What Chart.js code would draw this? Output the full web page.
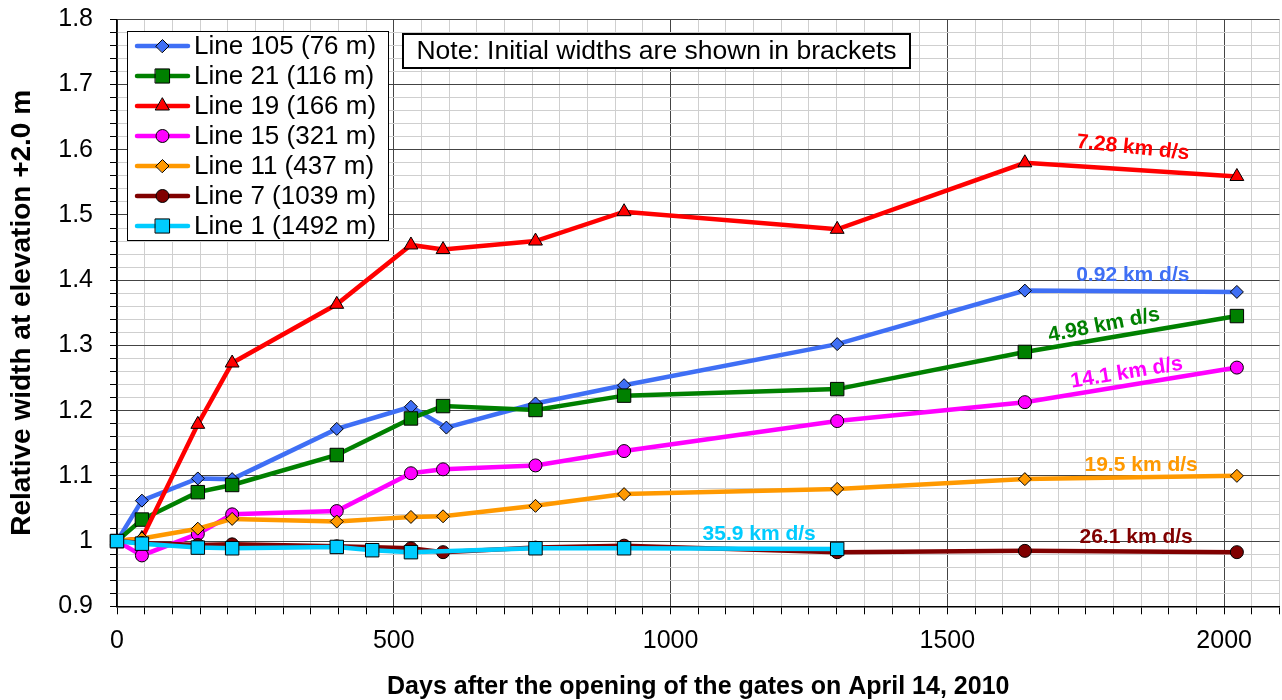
<!DOCTYPE html>
<html>
<head>
<meta charset="utf-8">
<title>Relative width at elevation +2.0 m</title>
<script src="https://cdn.jsdelivr.net/npm/chart.js@4.4.1/dist/chart.umd.min.js"></script>
<style>
  html, body { margin: 0; padding: 0; background: #fff; overflow: hidden; width: 1282px; height: 700px; }
  #wrap { position: absolute; left: 0; top: 0; width: 1290px; height: 700px; }
</style>
</head>
<body>
<div id="wrap"><canvas id="chart" width="1290" height="700"></canvas></div>
<script>
// ---- data: days after opening of the gates, relative width at +2.0 m ----
const seriesNames = [
  'Line 105 (76 m)', 'Line 21 (116 m)', 'Line 19 (166 m)', 'Line 15 (321 m)',
  'Line 11 (437 m)', 'Line 7 (1039 m)', 'Line 1 (1492 m)'
];
const days105 = [0, 45, 146, 208, 397, 531, 595, 756, 916, 1301, 1640, 2023];
const width105 = [1.000, 1.062, 1.096, 1.095, 1.172, 1.206, 1.174, 1.211, 1.239, 1.302, 1.384, 1.382];

const daysSurvey = [0, 45, 146, 208, 397, 531, 589, 756, 916, 1301, 1640, 2023];
const width21 = [1.000, 1.033, 1.075, 1.086, 1.132, 1.188, 1.207, 1.201, 1.223, 1.233, 1.290, 1.345];
const width19 = [1.000, 1.004, 1.179, 1.273, 1.363, 1.454, 1.447, 1.460, 1.505, 1.478, 1.580, 1.559];
const width15 = [1.000, 0.978, 1.011, 1.041, 1.046, 1.104, 1.110, 1.116, 1.138, 1.184, 1.213, 1.266];
const width11 = [1.000, 1.004, 1.019, 1.034, 1.030, 1.037, 1.038, 1.054, 1.072, 1.080, 1.095, 1.100];
const width7  = [1.000, 0.997, 0.994, 0.995, 0.992, 0.989, 0.983, 0.990, 0.993, 0.983, 0.985, 0.983];

const days1  = [0, 45, 146, 208, 397, 461, 531, 756, 916, 1301];
const width1 = [1.000, 0.996, 0.990, 0.989, 0.991, 0.986, 0.983, 0.989, 0.989, 0.988];

// discharge labels written next to each line
const rateLabels = ['0.92 km d/s', '4.98 km d/s', '7.28 km d/s', '14.1 km d/s', '19.5 km d/s', '26.1 km d/s', '35.9 km d/s'];
const noteText = 'Note: Initial widths are shown in brackets';
const xTitle = 'Days after the opening of the gates on April 14, 2010';
const yTitle = 'Relative width at elevation +2.0 m';

// ---- styling ----
const FONT = "'Liberation Sans', Arial, Helvetica, sans-serif";
const lineColors   = ['#3f6ff5', '#008000', '#ff0000', '#ff00ff', '#ff9900', '#800000', '#00ccff'];
const markerStyles = ['rectRot', 'rect', 'triangle', 'circle', 'rectRot', 'circle', 'rect'];
const markerRadius = [6.5, 9.5, 8, 6.5, 6.5, 6.5, 9.5];

// placement of the discharge labels (data units) and their tilt in degrees
const ratePlacement = [
  { day: 1835, value: 1.408, angle: 0 },
  { day: 1783, value: 1.331, angle: -11 },
  { day: 1835, value: 1.603, angle: 6 },
  { day: 1824, value: 1.258, angle: -9.3 },
  { day: 1850, value: 1.116, angle: 0 },
  { day: 1841, value: 1.006, angle: 0 },
  { day: 1160, value: 1.011, angle: 0 }
];

const seriesDays = [days105, daysSurvey, daysSurvey, daysSurvey, daysSurvey, daysSurvey, days1];
const seriesVals = [width105, width21, width19, width15, width11, width7, width1];

const datasets = seriesNames.map((name, i) => ({
  label: name,
  data: seriesDays[i].map((d, k) => ({ x: d, y: seriesVals[i][k] })),
  borderColor: lineColors[i],
  backgroundColor: lineColors[i],
  borderWidth: 4.5,
  tension: 0,
  pointStyle: markerStyles[i],
  pointRadius: markerRadius[i],
  pointBackgroundColor: lineColors[i],
  pointBorderColor: '#000',
  pointBorderWidth: 1,
  clip: false,
  order: seriesNames.length - i  // later series are painted above earlier ones
}));

const MAJOR_GRID = '#444444';
const MINOR_GRID = '#cfcfcf';

function drawMarker(ctx, style, x, y, r) {
  ctx.beginPath();
  if (style === 'circle') {
    ctx.arc(x, y, r, 0, Math.PI * 2);
  } else if (style === 'rect') {
    const s = Math.SQRT1_2 * r;
    ctx.rect(x - s, y - s, 2 * s, 2 * s);
  } else if (style === 'rectRot') {
    ctx.moveTo(x - r, y); ctx.lineTo(x, y - r); ctx.lineTo(x + r, y); ctx.lineTo(x, y + r);
    ctx.closePath();
  } else if (style === 'triangle') {
    for (let k = 0; k < 3; k++) {
      const a = k * 2 * Math.PI / 3;
      const px = x + Math.sin(a) * r, py = y - Math.cos(a) * r;
      if (k === 0) ctx.moveTo(px, py); else ctx.lineTo(px, py);
    }
    ctx.closePath();
  }
  ctx.fill();
  ctx.stroke();
}

// discharge labels beside the lines
const rateLabelPlugin = {
  id: 'rateLabels',
  afterDatasetsDraw(chart) {
    const { ctx, scales: { x, y } } = chart;
    ctx.save();
    ctx.font = 'bold 21px ' + FONT;
    ctx.textAlign = 'center';
    ctx.textBaseline = 'middle';
    rateLabels.forEach((txt, i) => {
      const p = ratePlacement[i];
      ctx.save();
      ctx.translate(x.getPixelForValue(p.day), y.getPixelForValue(p.value));
      ctx.rotate(p.angle * Math.PI / 180);
      ctx.fillStyle = lineColors[i];
      ctx.fillText(txt, 0, 0);
      ctx.restore();
    });
    ctx.restore();
  }
};

// framed legend and note inside the plot
const boxesPlugin = {
  id: 'boxes',
  afterDraw(chart) {
    const ctx = chart.ctx;
    ctx.save();
    // legend
    const lx = 127.5, ly = 31.5, lw = 261, lh = 209, rowH = 30, row0 = 46;
    ctx.fillStyle = '#fff';
    ctx.fillRect(lx, ly, lw, lh);
    ctx.strokeStyle = '#000';
    ctx.lineWidth = 1;
    ctx.strokeRect(lx, ly, lw, lh);
    ctx.font = '26px ' + FONT;
    ctx.textBaseline = 'middle';
    ctx.textAlign = 'left';
    seriesNames.forEach((name, i) => {
      const cy = row0 + i * rowH;
      ctx.strokeStyle = lineColors[i];
      ctx.lineWidth = 4.5;
      ctx.lineCap = 'round';
      ctx.beginPath();
      ctx.moveTo(137, cy); ctx.lineTo(188, cy);
      ctx.stroke();
      ctx.fillStyle = lineColors[i];
      ctx.strokeStyle = '#000';
      ctx.lineWidth = 1;
      drawMarker(ctx, markerStyles[i], 162.5, cy, markerStyles[i] === 'rect' ? 10 : markerRadius[i]);
      ctx.fillStyle = '#000';
      ctx.fillText(name, 194, cy + 1);
    });
    // note box
    const nx = 403, ny = 34, nw = 507, nh = 34;
    ctx.fillStyle = '#fff';
    ctx.fillRect(nx, ny, nw, nh);
    ctx.strokeStyle = '#000';
    ctx.lineWidth = 2;
    ctx.strokeRect(nx, ny, nw, nh);
    ctx.font = '26.5px ' + FONT;
    ctx.fillStyle = '#000';
    ctx.textAlign = 'center';
    ctx.fillText(noteText, nx + nw / 2, ny + nh / 2 + 1);
    ctx.restore();
  }
};

const isMajorX = v => Math.round(v) % 500 === 0;
const isMajorY = v => Math.round(v * 50) % 5 === 0;

// keep the plot frame fixed: no extra label overhang added by the layout
function noOverhang(s) {
  s.paddingTop = 0; s.paddingBottom = 0; s.paddingLeft = 0; s.paddingRight = 0;
}

new Chart(document.getElementById('chart'), {
  type: 'line',
  data: { datasets },
  options: {
    responsive: false,
    animation: false,
    events: [],
    layout: { padding: { left: 0, top: 19.3, right: 6.2, bottom: 0 } },
    plugins: { legend: { display: false }, tooltip: { enabled: false } },
    scales: {
      x: {
        type: 'linear',
        min: 0, max: 2100,
        ticks: {
          stepSize: 50, autoSkip: false, maxRotation: 0, minRotation: 0,
          padding: 12, color: '#000',
          font: { family: FONT, size: 25 },
          callback: v => (isMajorX(v) ? String(Math.round(v)) : '')
        },
        grid: {
          color: c => (c.tick && isMajorX(c.tick.value) ? MAJOR_GRID : MINOR_GRID),
          lineWidth: 1,
          tickLength: 8, tickColor: '#000', tickWidth: 1
        },
        border: { color: '#000', width: 1.5 },
        title: {
          display: true, text: xTitle, color: '#000',
          font: { family: FONT, size: 25, weight: 'bold', lineHeight: 1 },
          padding: { top: 0, bottom: 0 }
        },
        afterFit: s => { s.height = 93.7; noOverhang(s); }
      },
      y: {
        type: 'linear',
        min: 0.9, max: 1.8,
        ticks: {
          stepSize: 0.02, autoSkip: false, padding: 17, color: '#000',
          font: { family: FONT, size: 25 },
          callback: v => (isMajorY(v) ? String(+v.toFixed(1)) : '')
        },
        grid: {
          color: c => (c.tick && isMajorY(c.tick.value) ? MAJOR_GRID : MINOR_GRID),
          lineWidth: 1,
          tickLength: 7, tickColor: '#000', tickWidth: 1
        },
        border: { color: '#000', width: 1.5 },
        title: {
          display: true, text: yTitle, color: '#000',
          font: { family: FONT, size: 28, weight: 'bold', lineHeight: 1.2 },
          padding: { top: 5, bottom: 0 }
        },
        afterFit: s => { s.width = 117; noOverhang(s); }
      }
    }
  },
  plugins: [rateLabelPlugin, boxesPlugin]
});
</script>
</body>
</html>
